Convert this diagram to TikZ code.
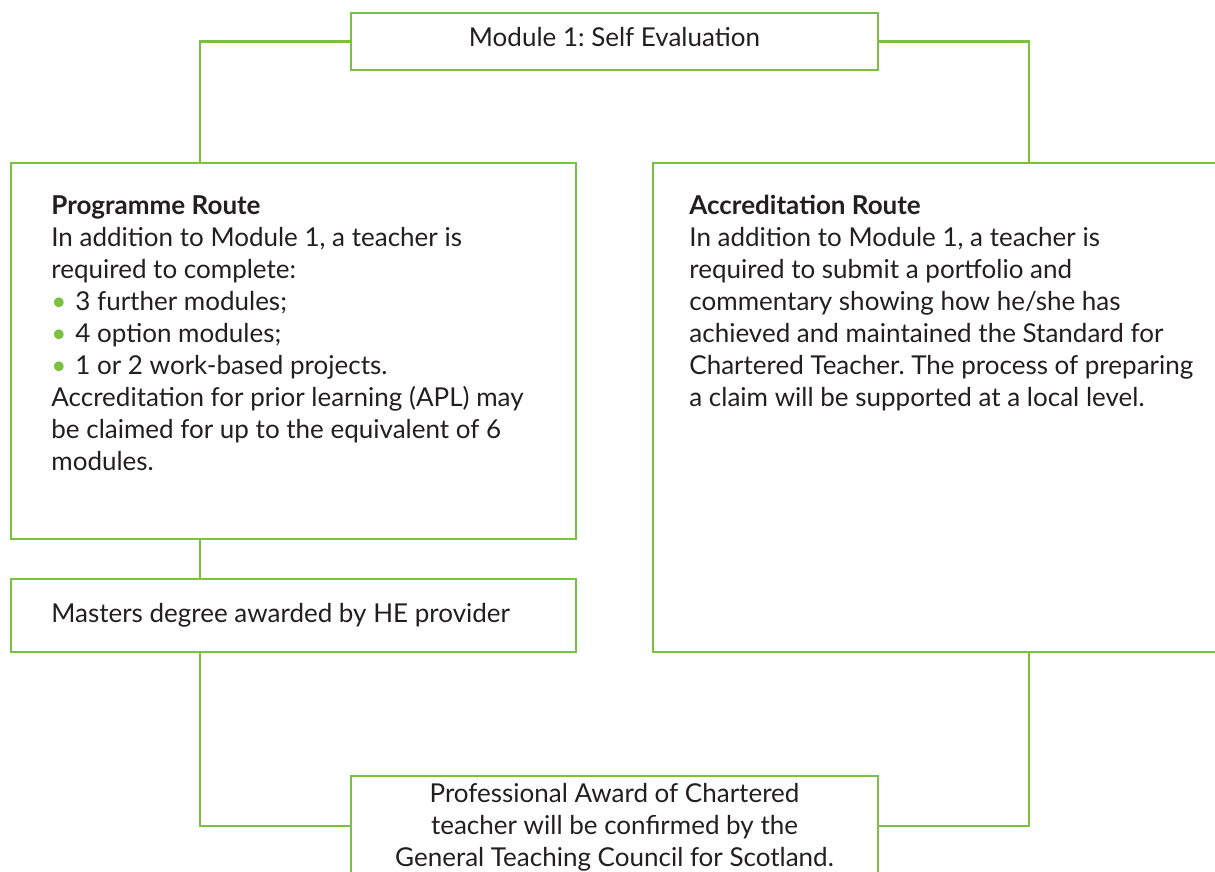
\documentclass[tikz,border=0pt]{standalone}
\usepackage{fontspec}
\setmainfont{Lato}
\usetikzlibrary{positioning}
\definecolor{routegreen}{RGB}{122,193,66}
\definecolor{inkgrey}{RGB}{35,31,32}
\newcommand{\gbul}{\makebox[12pt][l]{\textcolor{routegreen}{\textbullet}}}
\frenchspacing

\begin{document}
\begin{tikzpicture}[x=0.5pt,y=-0.5pt,
  box/.style={draw=routegreen, line width=1.4pt, fill=white, inner sep=0pt},
  link/.style={draw=routegreen, line width=1.4pt},
  txt/.style={inner sep=0pt, align=left, text=inkgrey, font=\fontsize{13}{16}\selectfont}]
  \useasboundingbox (0,0) rectangle (1215,872);
  \fill[white] (0,0) rectangle (1215,872);
  \clip (0,0) rectangle (1215,872);
  % boxes
  \node[box, minimum width=263.5pt, minimum height=28.5pt] (mod1) at (614.5,41.5) {};
  \node[box, minimum width=282.5pt, minimum height=188pt] (prog) at (293.5,351) {};
  \node[box, minimum width=282.5pt, minimum height=36.5pt] (mast) at (293.5,615.5) {};
  \node[box, minimum width=300pt, minimum height=244.5pt] (accr) at (953,407.5) {};
  \node[box, minimum width=263.5pt, minimum height=50pt] (award) at (614.5,826) {};
  % texts
  \node[txt, anchor=base] (mod1txt) at (614.5,47) {Module 1: Self Evaluation};
  \node[txt, anchor=north west] (progtxt) at (51,195) {\textbf{Programme Route}\\
    In addition to Module 1, a teacher is\\
    required to complete:\\
    \gbul 3 further modules;\\
    \gbul 4 option modules;\\
    \gbul 1 or 2 work-based projects.\\
    Accreditation for prior learning (APL) may\\
    be claimed for up to the equivalent of 6\\
    modules.};
  \node[txt, anchor=base west] (masttxt) at (51,622) {Masters degree awarded by HE provider};
  \node[txt, anchor=north west] (accrtxt) at (689,195) {\textbf{Accreditation Route}\\
    In addition to Module 1, a teacher is\\
    required to submit a portfolio and\\
    commentary showing how he/she has\\
    achieved and maintained the Standard for\\
    Chartered Teacher. The process of preparing\\
    a claim will be supported at a local level.};
  \node[txt, align=center, anchor=north] (awardtxt) at (614.5,783) {Professional Award of Chartered\\
    teacher will be confirmed by the\\
    General Teaching Council for Scotland.};
  % connectors
  \coordinate (lx) at (200,0);
  \coordinate (rx) at (1029,0);
  \draw[link] (mod1.west) -| (lx |- prog.north);
  \draw[link] (mod1.east) -| (rx |- accr.north);
  \draw[link] (lx |- prog.south) -- (lx |- mast.north);
  \draw[link] (lx |- mast.south) |- (award.west);
  \draw[link] (rx |- accr.south) |- (award.east);
\end{tikzpicture}
\end{document}
